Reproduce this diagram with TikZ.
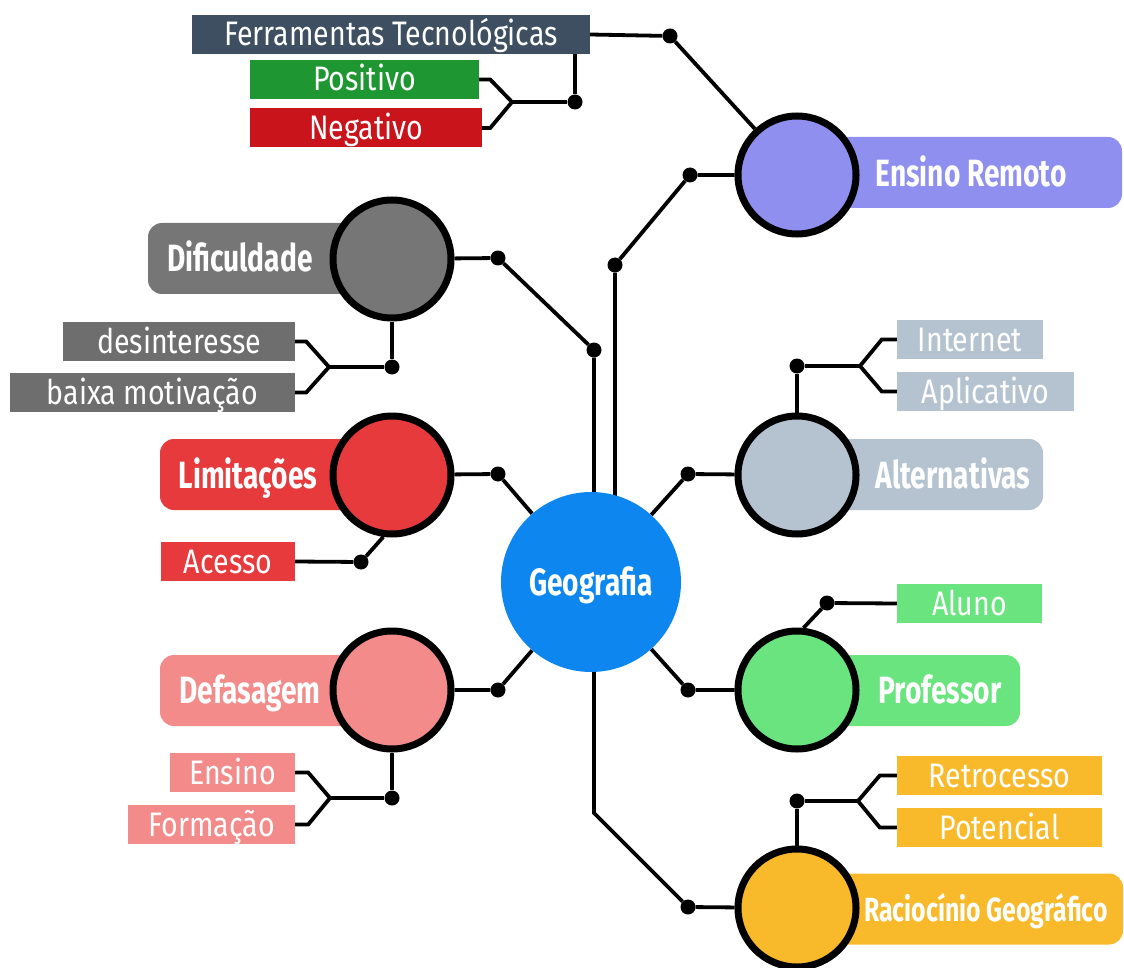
\documentclass[tikz,border=0pt]{standalone}
\usepackage{fontspec}
\setmainfont[FakeStretch=0.84]{Fira Sans}
\newfontfamily\lblfont[FakeStretch=0.74]{Fira Sans}
\usetikzlibrary{calc}
\pgfdeclarelayer{bg}
\pgfsetlayers{bg,main}
\definecolor{geoc}{HTML}{0D87EF}
\definecolor{ferrc}{HTML}{3D4F60}
\definecolor{posc}{HTML}{1E9632}
\definecolor{negc}{HTML}{C8141A}
\definecolor{difc}{HTML}{767676}
\definecolor{difsub}{HTML}{6E6E6E}
\definecolor{limc}{HTML}{E73A3C}
\definecolor{defc}{HTML}{F38B8B}
\definecolor{erc}{HTML}{8F8FF0}
\definecolor{altc}{HTML}{B5C3D1}
\definecolor{profc}{HTML}{6AE47E}
\definecolor{racc}{HTML}{F8BA2A}
\begin{document}
\begin{tikzpicture}[x=1pt,y=-1pt,
  conn/.style={line width=3.8pt, draw=black},
  dot/.style={circle, fill=black, inner sep=0pt, minimum size=15pt},
  big/.style={circle, draw=black, line width=7pt, minimum size=118pt, inner sep=0pt},
  tag/.style={rounded corners=14pt, inner sep=0pt, minimum height=71pt},
  tagtext/.style={text=white, inner sep=0pt, text height=30pt, text depth=3pt,
    font=\lblfont\bfseries\fontsize{38}{38}\selectfont},
  sub/.style={rectangle, inner sep=0pt, minimum height=39pt, text=white,
    text height=27pt, text depth=4pt, font=\fontsize{34}{34}\selectfont},
]
\useasboundingbox (0,0) rectangle (1124,968);

% label boxes of the big circles
\node[tag, fill=difc, minimum width=232pt] (difbox) at (264,258.5) {};
\node[tag, fill=limc, minimum width=220pt] (limbox) at (270,474.5) {};
\node[tag, fill=defc, minimum width=220pt] (defbox) at (270,690.5) {};
\node[tag, fill=erc, minimum width=312pt] (erbox) at (966,172.5) {};
\node[tag, fill=altc, minimum width=233pt] (altbox) at (926.5,474.5) {};
\node[tag, fill=profc, minimum width=210pt] (profbox) at (915,690.5) {};
\node[tag, fill=racc, minimum width=313pt] (racbox) at (966.5,909) {};

% big circles
\node[circle, fill=geoc, minimum size=180pt, inner sep=0pt, text=white,
  text height=30pt, text depth=3pt,
  font=\lblfont\bfseries\fontsize{38}{38}\selectfont] (geo) at (591,582) {Geografia};
\node[big, fill=difc] (dif) at (392,259) {};
\node[big, fill=limc] (lim) at (392,475) {};
\node[big, fill=defc] (def) at (392,690) {};
\node[big, fill=erc] (er) at (797,175) {};
\node[big, fill=altc] (alt) at (797,475) {};
\node[big, fill=profc] (prof) at (797,690) {};
\node[big, fill=racc] (rac) at (797,908) {};

% texts of the big labels
\node[tagtext] (diftext) at (240,258) {Dificuldade};
\node[tagtext] (limtext) at (248,475) {Limitações};
\node[tagtext] (deftext) at (250,690) {Defasagem};
\node[tagtext] (ertext) at (971,173) {Ensino Remoto};
\node[tagtext] (alttext) at (953,475) {Alternativas};
\node[tagtext] (proftext) at (940,690) {Professor};
\node[tagtext, text height=26pt, text depth=3pt,
  font=\lblfont\bfseries\fontsize{33.5}{34}\selectfont] (ractext) at (986,910) {Raciocínio Geográfico};

% small boxes
\node[sub, fill=ferrc, minimum width=398pt] (ferr) at (391,34.5) {Ferramentas Tecnológicas};
\node[sub, fill=posc, minimum width=229pt] (pos) at (364.5,79.5) {Positivo};
\node[sub, fill=negc, minimum width=232pt] (neg) at (366,128) {Negativo};
\node[sub, fill=difsub, minimum width=232pt] (desint) at (179,341.5) {desinteresse};
\node[sub, fill=difsub, minimum width=285pt] (baixa) at (152.5,392.5) {baixa motivação};
\node[sub, fill=limc, minimum width=134pt] (acc) at (228,561.5) {Acesso};
\node[sub, fill=defc, minimum width=125pt] (ens) at (232.5,772.5) {Ensino};
\node[sub, fill=defc, minimum width=167pt] (form) at (211.5,824.5) {Formação};
\node[sub, fill=altc, minimum width=146pt] (inet) at (970,339.5) {Internet};
\node[sub, fill=altc, minimum width=177pt] (aplic) at (985.5,391.5) {Aplicativo};
\node[sub, fill=profc, minimum width=145pt] (aluno) at (969.5,603.5) {Aluno};
\node[sub, fill=racc, minimum width=205pt] (retro) at (999.5,775.5) {Retrocesso};
\node[sub, fill=racc, minimum width=205pt] (pot) at (999.5,827.5) {Potencial};

% dots
\node[dot] (dFerr) at (670,36) {};
\node[dot] (dPN) at (575,102) {};
\node[dot] (dDifSub) at (392,367) {};
\node[dot] (dDif) at (498,258) {};
\node[dot] (dDifV) at (594,350) {};
\node[dot] (dER) at (690,175) {};
\node[dot] (dERV) at (615,265) {};
\node[dot] (dAltSub) at (797,366) {};
\node[dot] (dAlt) at (688,474) {};
\node[dot] (dLim) at (498,474) {};
\node[dot] (dAcc) at (361,562) {};
\node[dot] (dDef) at (498,690) {};
\node[dot] (dDefSub) at (392,798) {};
\node[dot] (dProf) at (688,690) {};
\node[dot] (dAluno) at (827,603) {};
\node[dot] (dRac) at (688,907) {};
\node[dot] (dRP) at (797,801) {};

% bracket tips and bends
\coordinate (tPN) at (512,102);
\coordinate (tDif) at (329,367);
\coordinate (tDef) at (330,798);
\coordinate (tAlt) at (860,366);
\coordinate (tRP) at (858,801);
\coordinate (bend) at (594,813);

\begin{pgfonlayer}{bg}
  % main branches
  \draw[conn] (geo) -- (dLim) -- (lim);
  \draw[conn] (geo) -- (dDef) -- (def);
  \draw[conn] (geo) -- (dAlt) -- (alt);
  \draw[conn] (geo) -- (dProf) -- (prof);
  \draw[conn] (dDifV |- geo) -- (dDifV) -- (dDif) -- (dif);
  \draw[conn] (dERV |- geo) -- (dERV) -- (dER) -- (er);
  \draw[conn] (bend |- geo) -- (bend) -- (dRac) -- (rac);
  % Ensino Remoto sub-branch
  \draw[conn] (ferr.east) -- (dFerr) -- (er);
  \draw[conn] (dPN) -- (dPN |- ferr.center);
  \draw[conn] (dPN) -- (tPN);
  \draw[conn] (pos.east) -- ++(11,0) -- (tPN) -- ($(neg.east)+(8,0)$) -- (neg.east);
  % Dificuldade
  \draw[conn] (dif) -- (dDifSub) -- (tDif);
  \draw[conn] (desint.east) -- ++(11,0) -- (tDif) -- ($(baixa.east)+(11,0)$) -- (baixa.east);
  % Limitacoes
  \draw[conn] (acc.east) -- (dAcc) -- (lim.262);
  % Defasagem
  \draw[conn] (def) -- (dDefSub) -- (tDef);
  \draw[conn] (ens.east) -- ++(13,0) -- (tDef) -- ($(form.east)+(13,0)$) -- (form.east);
  % Alternativas
  \draw[conn] (alt) -- (dAltSub) -- (tAlt);
  \draw[conn] (inet.west) -- ++(-15,0) -- (tAlt) -- ($(aplic.west)+(-15,0)$) -- (aplic.west);
  % Professor
  \draw[conn] (aluno.west) -- (dAluno) -- (prof.84);
  % Raciocinio
  \draw[conn] (rac) -- (dRP) -- (tRP);
  \draw[conn] (retro.west) -- ++(-17,0) -- (tRP) -- ($(pot.west)+(-17,0)$) -- (pot.west);
\end{pgfonlayer}
\end{tikzpicture}
\end{document}
